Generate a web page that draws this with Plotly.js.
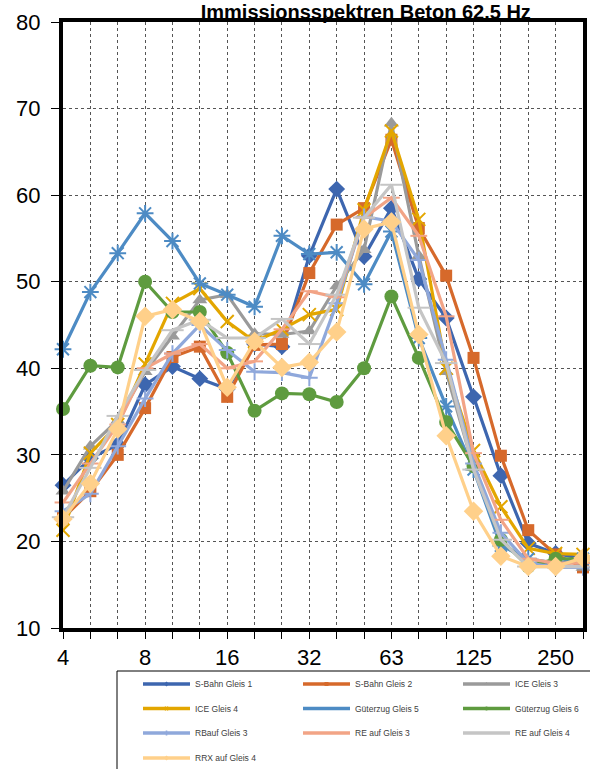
<!DOCTYPE html>
<html>
<head>
<meta charset="utf-8">
<script src="https://cdn.plot.ly/plotly-3.0.1.min.js"></script>
<style>html,body{margin:0;padding:0;background:#fff;}#chart{width:590px;height:769px;}</style>
</head>
<body>
<div id="chart"></div>
<script>
// Third-octave band centre frequencies (Hz)
const bands = ["4","5","6.3","8","10","12.5","16","20","25","31.5","40","50","63","80","100","125","160","200","250","315"];
const tickLabels = {"4":"4","8":"8","16":"16","31.5":"32","63":"63","125":"125","250":"250"};

const sBahn1   = [26.5, 29.6, 31.2, 38.1, 40.2, 38.8, 37.6, 42.8, 42.5, 53.0, 60.7, 52.9, 58.5, 50.3, 45.8, 36.7, 27.6, 19.8, 18.6, 18.0];
const sBahn2   = [22.7, 25.8, 30.0, 35.4, 41.3, 42.5, 36.7, 42.7, 42.8, 51.0, 56.6, 58.5, 66.4, 56.2, 50.7, 41.2, 29.9, 21.3, 18.5, 17.0];
const ice3     = [25.8, 31.0, 34.0, 39.6, 43.7, 47.9, 48.5, 44.0, 43.9, 44.3, 49.5, 53.7, 68.3, 53.0, 39.6, 28.5, 20.0, 17.5, 17.3, 17.0];
const ice4     = [21.3, 30.2, 33.5, 40.5, 47.5, 49.2, 45.4, 43.1, 44.5, 46.2, 46.8, 58.3, 67.4, 57.2, 40.0, 30.5, 24.0, 19.2, 18.6, 18.5];
const gueter5  = [42.2, 48.8, 53.3, 57.9, 54.7, 49.8, 48.5, 47.1, 55.3, 53.2, 53.4, 49.7, 55.8, 43.5, 35.6, 28.3, 19.5, 18.0, 17.5, 18.0];
const gueter6  = [35.3, 40.3, 40.1, 50.0, 46.5, 46.5, 41.8, 35.1, 37.1, 37.0, 36.1, 40.0, 48.3, 41.2, 33.8, 28.7, 20.2, 17.1, 18.0, 18.0];
const rbAuf3   = [23.5, 25.5, 31.0, 36.5, 41.7, 45.0, 42.1, 39.6, 39.5, 38.9, 47.5, 57.5, 57.0, 52.5, 41.0, 29.0, 21.0, 17.5, 17.0, 17.0];
const reAuf3   = [24.5, 29.0, 33.5, 40.0, 41.7, 42.8, 40.0, 40.8, 44.5, 48.9, 48.2, 57.4, 59.7, 55.3, 46.0, 30.2, 22.5, 18.0, 17.5, 17.5];
const reAuf4   = [22.8, 28.5, 34.5, 39.8, 44.4, 45.6, 43.5, 43.5, 45.7, 42.8, 48.5, 57.4, 61.2, 47.0, 40.6, 28.3, 20.2, 17.1, 17.1, 17.1];
const rrxAuf4  = [22.6, 26.7, 33.0, 46.0, 46.8, 45.4, 37.8, 43.1, 40.1, 40.7, 44.2, 56.1, 56.9, 43.9, 32.2, 23.5, 18.3, 17.1, 17.1, 18.1];

const seriesNames = ["S-Bahn Gleis 1","S-Bahn Gleis 2","ICE Gleis 3","ICE Gleis 4","Güterzug Gleis 5","Güterzug Gleis 6","RBauf Gleis 3","RE auf Gleis 3","RE auf Gleis 4","RRX auf Gleis 4"];
const seriesData  = [sBahn1, sBahn2, ice3, ice4, gueter5, gueter6, rbAuf3, reAuf3, reAuf4, rrxAuf4];

const styles = [
  {color:"#3D66AF", symbol:"diamond", size:13, open:false},
  {color:"#D6692B", symbol:"square", size:12, open:false},
  {color:"#9A9A9A", symbol:"triangle-up", size:13, open:false},
  {color:"#E3A600", symbol:"x-thin-open", size:13, open:true},
  {color:"#4D8BC4", symbol:"asterisk-open", size:14, open:true},
  {color:"#5E9B3F", symbol:"circle", size:14, open:false},
  {color:"#8FA8DB", symbol:"cross-thin-open", size:12, open:true},
  {color:"#F2A486", symbol:"line-ew-open", size:12, open:true},
  {color:"#C5C5C5", symbol:"line-ew-open", size:16, open:true},
  {color:"#FFD08A", symbol:"diamond", size:15, open:false}
];

// legend rows (one Plotly legend per row, three entries per row)
const legendIds = ["legend","legend2","legend3","legend4"];

const traces = seriesData.map((vals, i) => {
  const s = styles[i];
  return {
    type: "scatter",
    mode: "lines+markers",
    name: seriesNames[i],
    x: bands,
    y: vals,
    cliponaxis: false,
    showlegend: false,
    line: {color: s.color, width: 3.2},
    marker: s.open
      ? {symbol: s.symbol, size: s.size, color: s.color, line: {color: s.color, width: 2}}
      : {symbol: s.symbol, size: s.size, color: s.color, line: {width: 0}}
  };
});

// legend entries with small markers (like the original legend keys)
seriesNames.forEach((name, i) => {
  const s = styles[i];
  traces.push({
    type: "scatter",
    mode: "lines+markers",
    name: name,
    x: [null], y: [null],
    showlegend: true,
    legend: legendIds[Math.floor(i / 3)],
    line: {color: s.color, width: 3.5},
    marker: {symbol: s.symbol.replace("-open","").replace("-thin",""), size: 4, color: s.color, line: {width: 0}}
  });
});

function legendRow(yPx) {
  return {
    orientation: "h",
    x: (138 - 63) / 520, xanchor: "left",
    y: (628 - yPx) / 606, yanchor: "middle",
    bgcolor: "rgba(0,0,0,0)", borderwidth: 0,
    font: {size: 8.5, color: "#404040", family: "Liberation Sans, Arial, sans-serif"},
    entrywidth: 98, entrywidthmode: "pixels",
    itemwidth: 47,
    traceorder: "normal"
  };
}

const layout = {
  width: 590, height: 769,
  margin: {l: 63, r: 7, t: 22, b: 141, autoexpand: false},
  paper_bgcolor: "#ffffff",
  plot_bgcolor: "#ffffff",
  font: {family: "Liberation Sans, Arial, sans-serif", color: "#000"},
  title: {
    text: "<b>Immissionsspektren Beton 62.5 Hz</b>",
    font: {size: 20, family: "Liberation Sans, Arial, sans-serif", color: "#000"},
    xref: "container", yref: "container",
    x: 0.62, xanchor: "center",
    y: 0.985, yanchor: "middle"
  },
  showlegend: true,
  legend: legendRow(684),
  legend2: legendRow(708.5),
  legend3: legendRow(733),
  legend4: legendRow(758),
  shapes: [{
    type: "rect", xref: "paper", yref: "paper", layer: "below",
    x0: (117 - 63) / 520, x1: (593 - 63) / 520,
    y0: (628 - 671) / 606, y1: (628 - 772) / 606,
    line: {color: "#000", width: 1}, fillcolor: "#fff"
  }],
  xaxis: {
    type: "category",
    categoryorder: "array", categoryarray: bands,
    range: [0, bands.length - 1],
    tickmode: "array",
    tickvals: bands,
    ticktext: bands.map(b => tickLabels[b] || ""),
    ticks: "outside", ticklen: 7, tickwidth: 1, tickcolor: "#000",
    tickfont: {size: 22, color: "#000"},
    showgrid: true, gridcolor: "#555", gridwidth: 1, griddash: "dot",
    showline: true, linecolor: "#000", linewidth: 4, mirror: true,
    zeroline: false, fixedrange: true
  },
  yaxis: {
    range: [10, 80],
    tickmode: "linear", tick0: 10, dtick: 10,
    ticks: "outside", ticklen: 8, tickwidth: 1, tickcolor: "#000",
    ticklabelstandoff: 6,
    tickfont: {size: 22, color: "#000"},
    showgrid: true, gridcolor: "#555", gridwidth: 1, griddash: "dot",
    showline: true, linecolor: "#000", linewidth: 4, mirror: true,
    zeroline: false, fixedrange: true
  }
};

Plotly.newPlot("chart", traces, layout, {displayModeBar: false, staticPlot: true});
</script>
</body>
</html>
